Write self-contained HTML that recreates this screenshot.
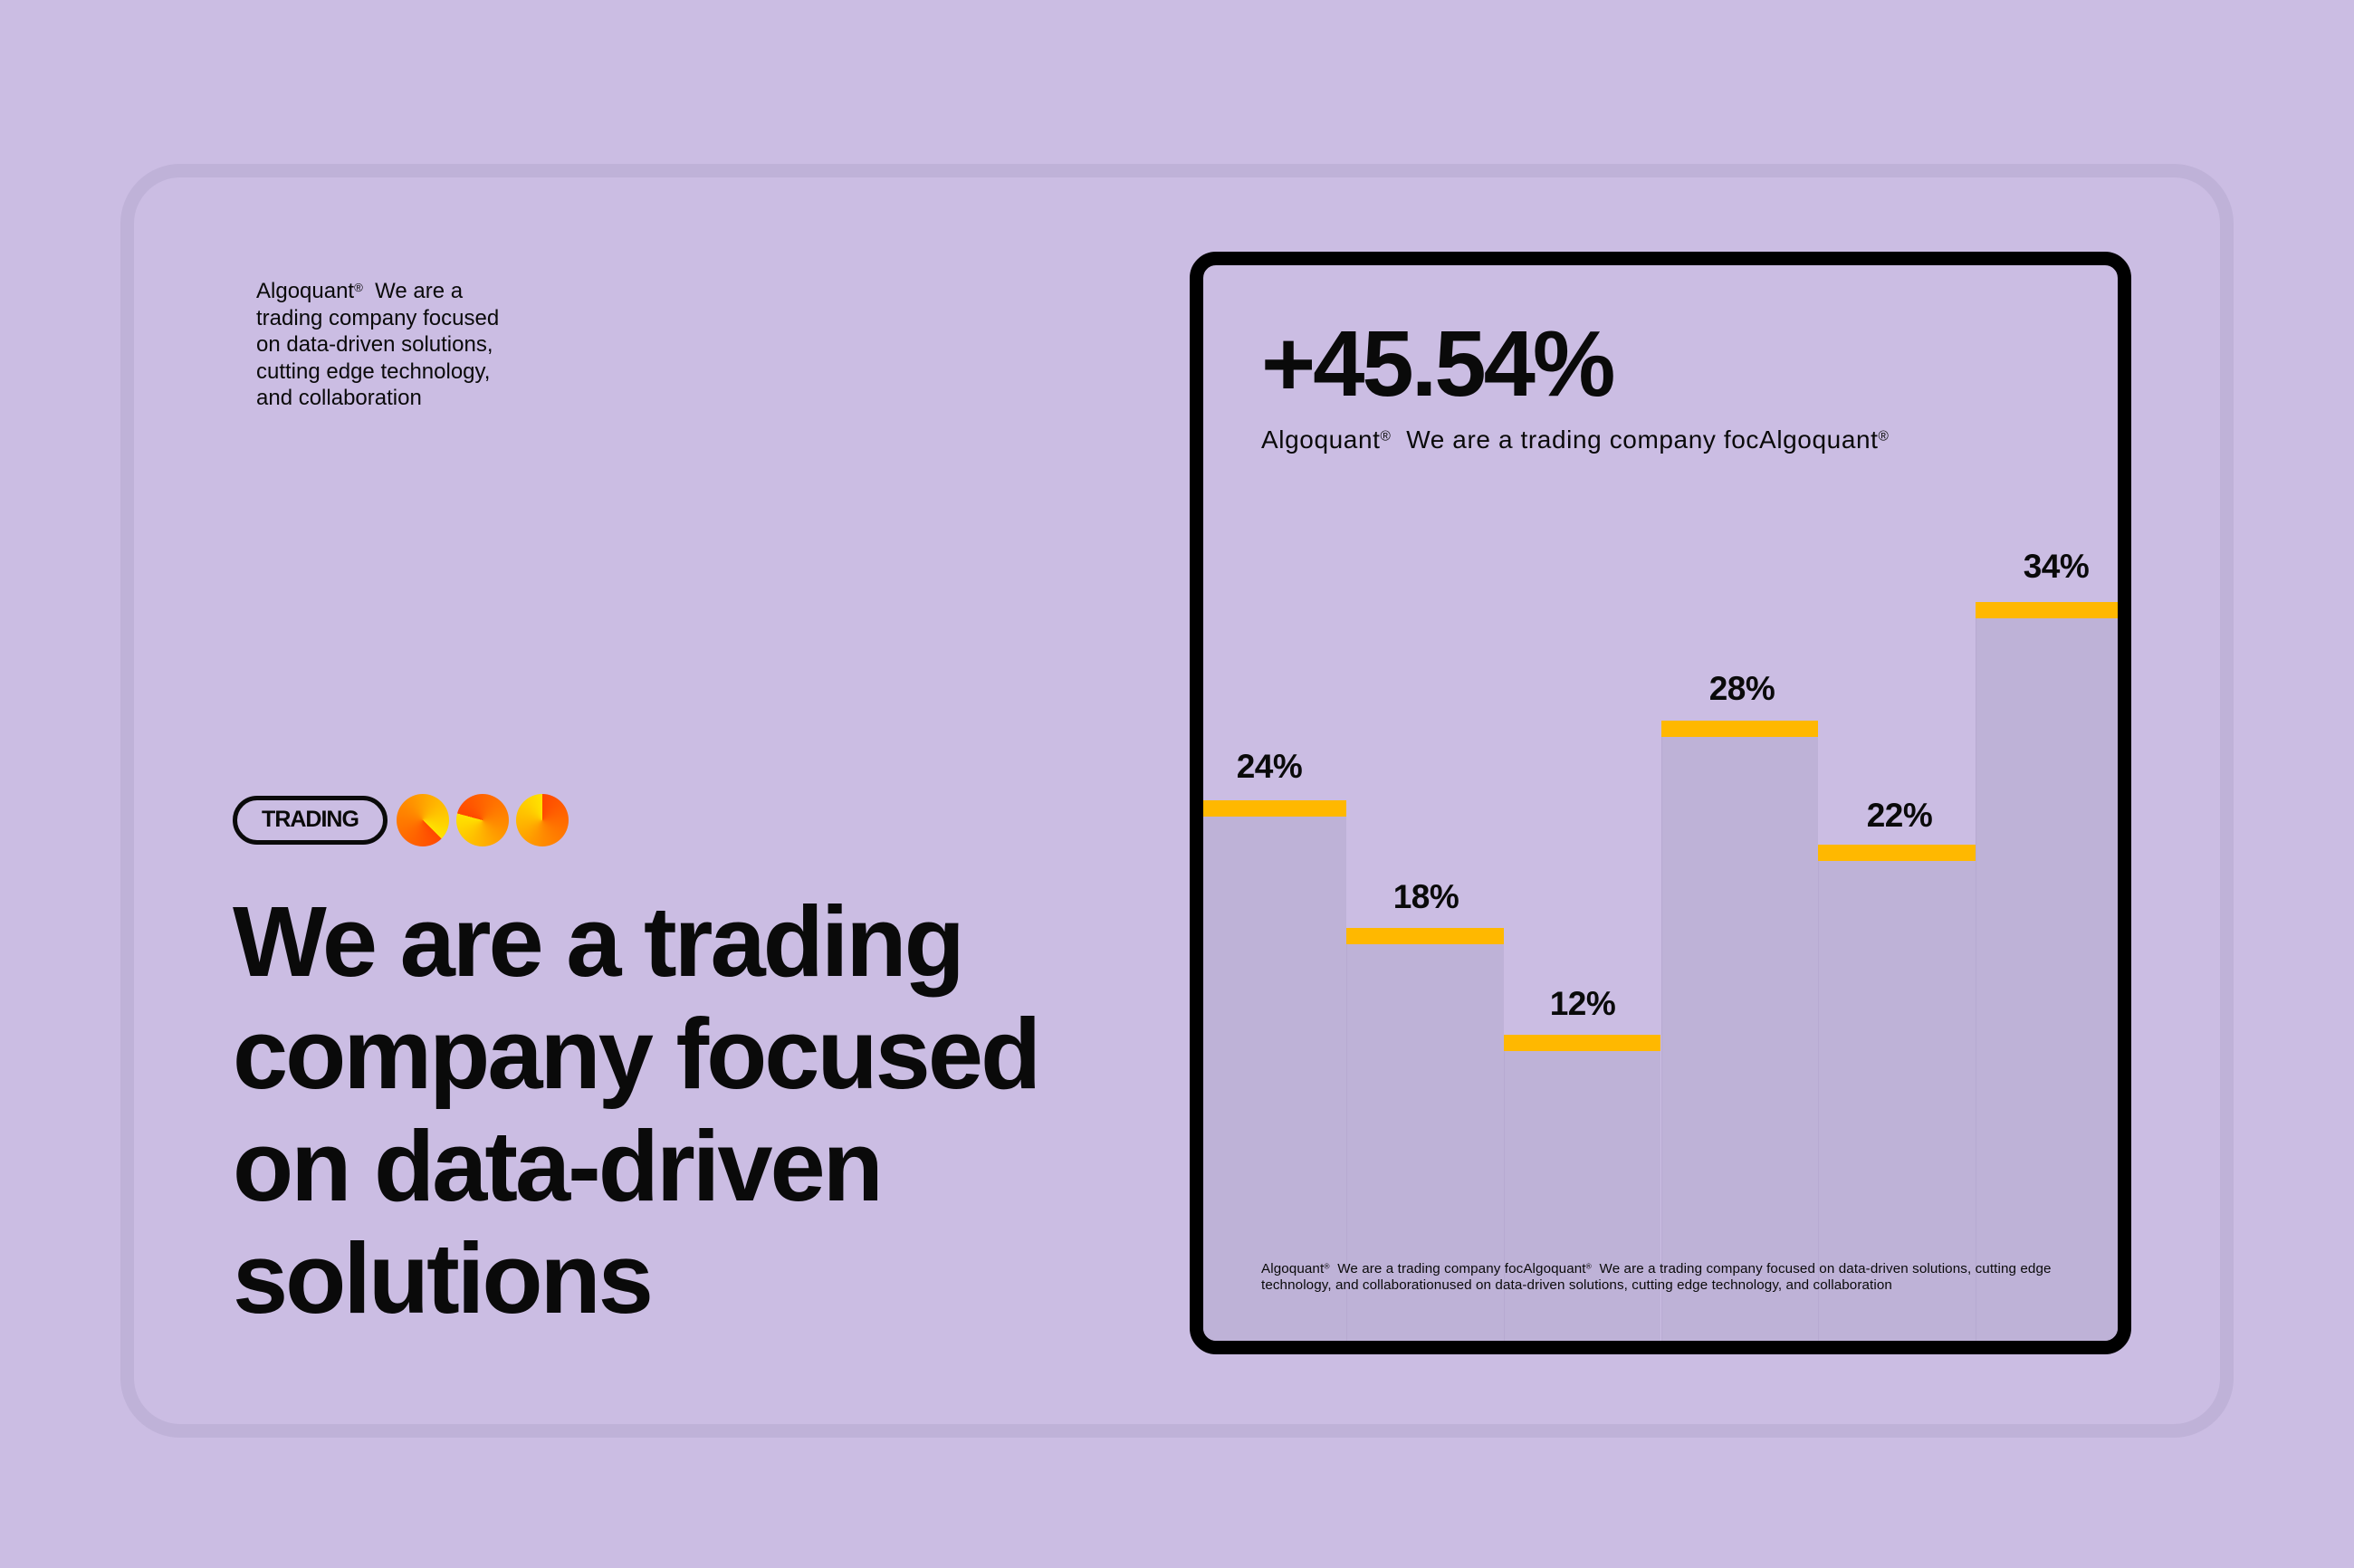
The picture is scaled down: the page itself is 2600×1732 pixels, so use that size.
<!DOCTYPE html>
<html>
<head>
<meta charset="utf-8">
<style>
  html, body { margin:0; padding:0; }
  body {
    width:2600px; height:1732px; overflow:hidden; position:relative;
    background:#cbbde3;
    font-family:"Liberation Sans", Arial, sans-serif;
    color:#0a0a0a;
  }
  .abs { position:absolute; white-space:nowrap; }
  .outer {
    position:absolute; left:133px; top:181px;
    width:2304px; height:1377px;
    border:15px solid #bfb2d8; border-radius:66px;
  }
  .intro { left:283px; top:307px; font-size:24px; line-height:29.6px; }
  .pill {
    position:absolute; left:257px; top:879px; width:161px; height:44px;
    border:5px solid #0a0a0a; border-radius:30px;
  }
  .pilltxt { left:257px; width:171px; text-align:center; top:893px; font-size:25px; line-height:25px; font-weight:bold; letter-spacing:-1px; }
  .dot { position:absolute; top:877px; width:58px; height:58px; border-radius:50%; }
  .headline { left:257px; top:979px; font-size:110px; line-height:124px; font-weight:bold; letter-spacing:-3px; }
  .panel {
    position:absolute; left:1314px; top:278px; width:1010px; height:1188px;
    border:15px solid #000; border-radius:29px; overflow:hidden;
    background:#cbbde3;
  }
  .bar {
    position:absolute; bottom:0; width:172.6px;
    background:#beb2d7;
    border-left:1px solid #b7aad1; 
    box-sizing:content-box;
  }
  .bar .cap { position:absolute; left:-1px; right:0; top:0; height:18px; background:#ffb800; }
  .big { left:1393px; top:350px; font-size:103px; line-height:103px; font-weight:bold; letter-spacing:-3px; }
  .sub { left:1393px; top:472px; font-size:28px; line-height:28px; letter-spacing:0.6px; }
  .lbl { width:120px; text-align:center; font-size:37px; line-height:37px; font-weight:bold; letter-spacing:-0.5px; }
  .foot { left:1393px; top:1393px; font-size:15.2px; line-height:17.5px; letter-spacing:0.1px; }
  sup.r { font-size:0.55em; vertical-align:0.55em; line-height:0; }
</style>
</head>
<body>
  <div class="outer"></div>

  <div class="abs intro">Algoquant<sup class="r">®</sup>&nbsp; We are a<br>trading company focused<br>on data-driven solutions,<br>cutting edge technology,<br>and collaboration</div>

  <div class="pill"></div>
  <div class="abs pilltxt">TRADING</div>
  <div class="dot" style="left:438px;background:conic-gradient(from 135deg,#ff4800,#ff8c00 50%,#ffb000 70%,#ffe400);"></div>
  <div class="dot" style="left:504px;background:conic-gradient(from 285deg,#ff4800,#ff8c00 50%,#ffb000 70%,#ffe400);"></div>
  <div class="dot" style="left:570px;background:conic-gradient(from 0deg,#ff4800,#ff8c00 50%,#ffb000 70%,#ffe400);"></div>

  <div class="abs headline">We are a trading<br>company focused<br>on data-driven<br>solutions</div>

  <div class="panel">
    <div class="bar" style="left:-15.3px;top:591px;"><div class="cap"></div></div>
    <div class="bar" style="left:158.3px;top:732px;"><div class="cap"></div></div>
    <div class="bar" style="left:331.9px;top:850px;"><div class="cap"></div></div>
    <div class="bar" style="left:505.5px;top:503px;"><div class="cap"></div></div>
    <div class="bar" style="left:679.1px;top:640px;"><div class="cap"></div></div>
    <div class="bar" style="left:852.7px;top:371.5px;"><div class="cap"></div></div>
  </div>

  <div class="abs big">+45.54%</div>
  <div class="abs sub">Algoquant<sup class="r">®</sup>&nbsp; We are a trading company focAlgoquant<sup class="r">®</sup></div>

  <div class="abs lbl" style="left:1342px;top:828px;">24%</div>
  <div class="abs lbl" style="left:1515px;top:972px;">18%</div>
  <div class="abs lbl" style="left:1688px;top:1090px;">12%</div>
  <div class="abs lbl" style="left:1864px;top:742px;">28%</div>
  <div class="abs lbl" style="left:2038px;top:882px;">22%</div>
  <div class="abs lbl" style="left:2211px;top:607px;">34%</div>

  <div class="abs foot">Algoquant<sup class="r">®</sup>&nbsp; We are a trading company focAlgoquant<sup class="r">®</sup>&nbsp; We are a trading company focused on data-driven solutions, cutting edge<br>technology, and collaborationused on data-driven solutions, cutting edge technology, and collaboration</div>
</body>
</html>
